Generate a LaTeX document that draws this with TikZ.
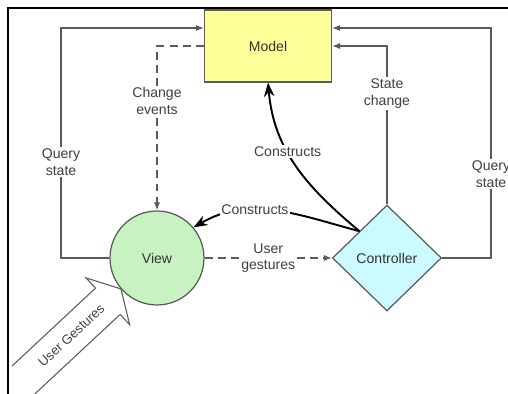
\documentclass[tikz,border=0pt]{standalone}
\usepackage{fontspec}
\setmainfont{Liberation Sans}
\usetikzlibrary{shapes,shapes.geometric,arrows.meta,positioning}
\definecolor{modelfill}{HTML}{FFFF99}
\definecolor{viewfill}{HTML}{C8F2C2}
\definecolor{ctrlfill}{HTML}{CCFBFF}
\definecolor{linegray}{HTML}{5A5A5A}
\tikzset{block/.style={draw=linegray, line width=0.7pt, text=black!80, font=\fontsize{8}{9.5}\selectfont, inner sep=0pt}}
\tikzstyle{lbl}=[fill=white, inner sep=1pt, align=center, text=black!75, font=\fontsize{8}{9.5}\selectfont]
\tikzstyle{flow}=[draw=linegray, line width=0.8pt, -{Latex[length=4.5pt,width=3.5pt]}]
\tikzstyle{event}=[flow, dash pattern=on 4.5pt off 3pt]
\tikzstyle{makes}=[draw=black, line width=1.1pt, -{Stealth[length=8pt,width=6pt]}]

\begin{document}
\begin{tikzpicture}[x=0.02cm, y=-0.02cm, node distance=4.6cm]
\useasboundingbox (0,0) rectangle (508,394);
% frame
\draw[line width=1.3pt] (508,8) -- (8,8) -- (8,394);
% user gestures arrow
\begin{scope}
\clip (12,9) rectangle (508,394);
\begin{scope}[shift={(121,289)}, rotate=43]
\draw[linegray, line width=0.6pt] (-250,-18) -- (-18,-18) -- (-18,-32) -- (0,0) -- (-18,32) -- (-18,18) -- (-250,18);
\node[rotate=43, inner sep=0pt, text=black!75, font=\fontsize{7.5}{9}\selectfont] (ug) at (-68,0) {User Gestures};
\end{scope}
\end{scope}

\node[block, rectangle, fill=modelfill, minimum width=2.54cm, minimum height=1.44cm] (M) at (268,46) {Model};
\node[block, circle, fill=viewfill, minimum size=1.88cm] (V) at (157,258) {View};
\node[block, diamond, aspect=1, fill=ctrlfill, minimum width=2.18cm, minimum height=2.12cm, right of=V] (C) {Controller};
\coordinate (ql) at (61,28);
\coordinate (qr) at (491,28);

\draw[flow] (V.west) -| node[lbl, pos=0.708] {Query\\state} (ql) -- (M.west |- ql);
\draw[flow] (C.east) -| node[lbl, pos=0.682] {Query\\state} (qr) -- (M.east |- qr);
\draw[flow] (C.north) |- node[lbl, pos=0.35] {State\\change} (M.east);
\draw[event] (M.west) -| node[lbl, pos=0.667] {Change\\events} (V.north);
\draw[event] (V.east) -- node[lbl] {User\\gestures} (C.west);
\draw[makes] (C.north west) to[out=140, in=-85] node[lbl, pos=0.6] {Constructs} (M.south);
\draw[makes] (C.north west) to[out=165, in=30] node[lbl, pos=0.62] {Constructs} (V.40);
\end{tikzpicture}
\end{document}
